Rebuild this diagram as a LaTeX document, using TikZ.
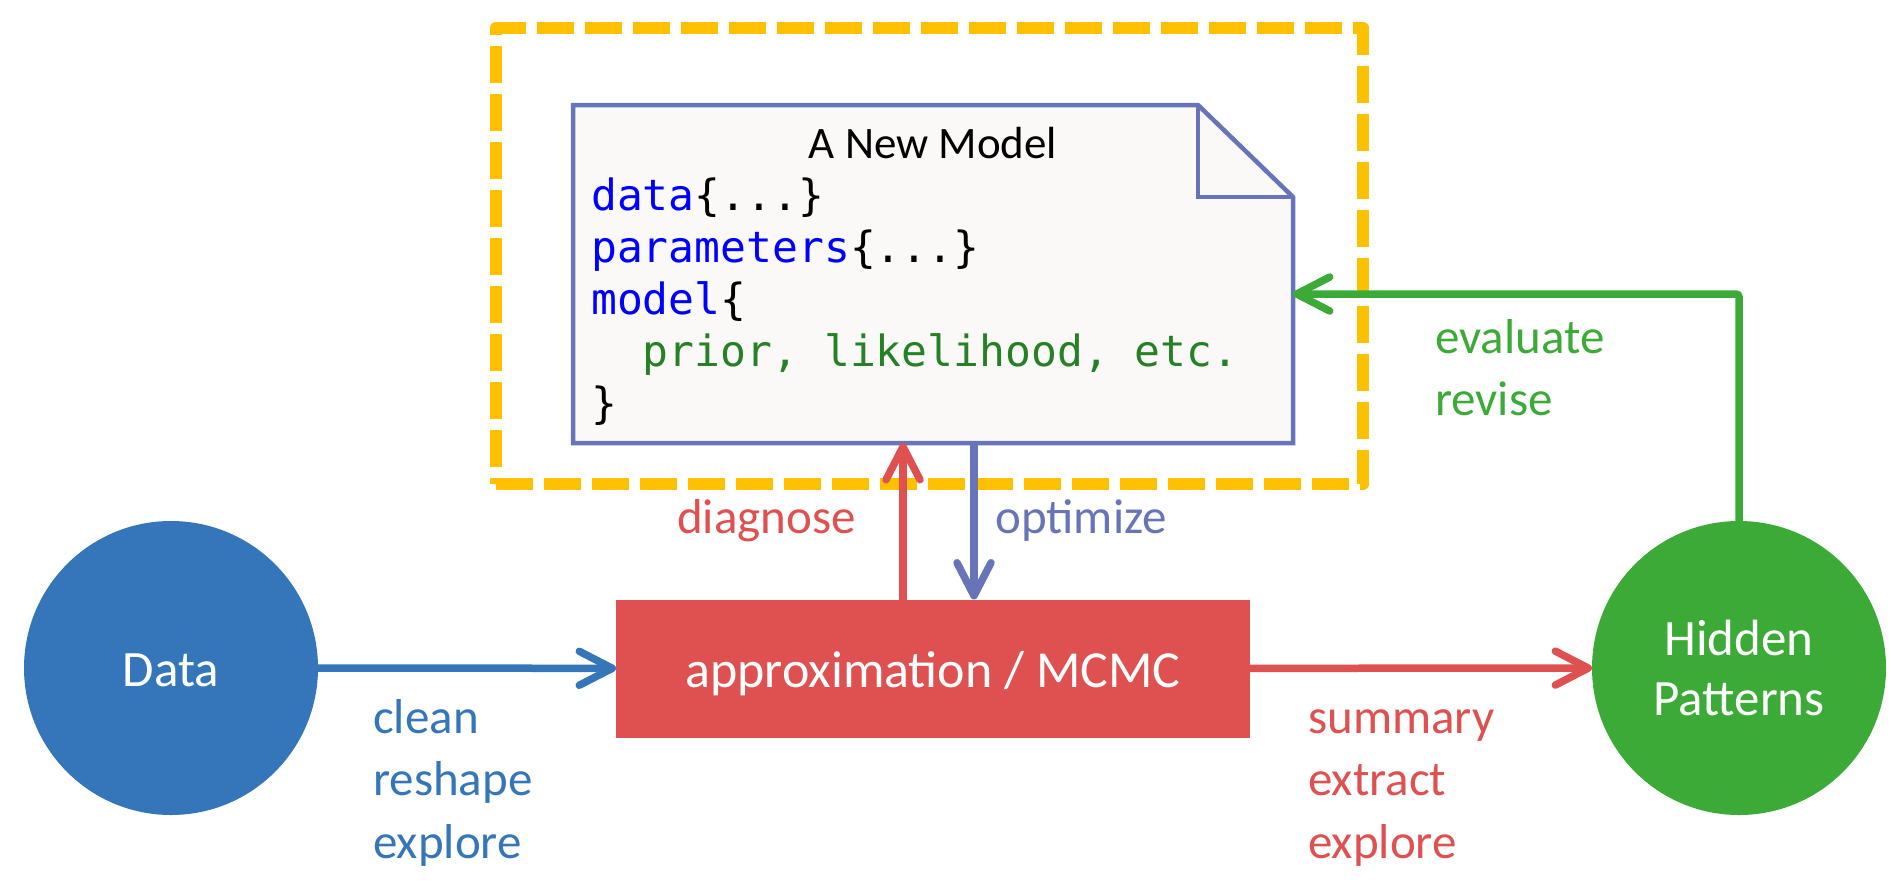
\documentclass[tikz,border=0pt]{standalone}
\usepackage{fontspec}
\setmainfont{Carlito}
\newfontfamily\mycodefont{DejaVu Sans Mono}
\usetikzlibrary{arrows.meta,calc}
\definecolor{datablue}{RGB}{52,118,185}
\definecolor{mcmcred}{RGB}{223,80,80}
\definecolor{hgreen}{RGB}{60,170,55}
\definecolor{noteblue}{RGB}{104,116,184}
\definecolor{gold}{RGB}{255,192,0}
\definecolor{notefill}{RGB}{250,249,247}
\definecolor{kwblue}{RGB}{0,0,255}
\definecolor{codegreen}{RGB}{38,128,38}
\newcommand\mylblfont{\fontsize{49}{59}\selectfont}
\newcommand\mynodefont{\fontsize{51}{60}\selectfont}
\newcommand\myrectfont{\fontsize{52}{62}\selectfont}
\newcommand\mytitlefont{\fontsize{45}{54}\selectfont}
\newcommand\mycodesize{\fontsize{43}{52}\selectfont}
\begin{document}
\begin{tikzpicture}[x=1pt,y=-1pt,
  >={Straight Barb[length=33pt,width=34pt,round]},
  conn/.style={line width=7.5pt,->},
  lbl/.style={font=\mylblfont,inner sep=0pt,anchor=base west},
  code/.style={font=\mycodefont\mycodesize,inner sep=0pt,anchor=base west},
  blob/.style={circle,minimum size=294pt,inner sep=0pt,outer sep=0pt,text=white,font=\mynodefont},
  noteline/.style={draw=noteblue,line width=4.5pt},
  framebox/.style={draw=gold,line width=12.5pt,dash pattern=on 37pt off 11pt,line join=round}]
\useasboundingbox (0,0) rectangle (1902,884);

% group frame
\node[framebox,minimum width=867pt,minimum height=456pt,inner sep=0pt] (frame) at (929.5,256) {};

% note (model file)
\node[minimum width=720pt,minimum height=338pt,inner sep=0pt,outer sep=0pt] (note) at (933,274) {};
\draw[noteline,fill=notefill] (note.north west) -- ($(note.north east)+(-95,0)$)
  -- ($(note.north east)+(0,92)$) -- (note.south east) -- (note.south west) -- cycle;
\draw[noteline] ($(note.north east)+(-95,0)$) -- ($(note.north east)+(-95,92)$)
  -- ($(note.north east)+(0,92)$);
\node[font=\mytitlefont,inner sep=0pt,anchor=base] (title) at (933,158) {A New Model};
\node[code] (c1) at (591,210) {\textcolor{kwblue}{data}\{...\}};
\node[code] (c2) at (591,262) {\textcolor{kwblue}{parameters}\{...\}};
\node[code] (c3) at (591,314) {\textcolor{kwblue}{model}\{};
\node[code] (c4) at (591,366) {\hphantom{xx}\textcolor{codegreen}{prior, likelihood, etc.}};
\node[code] (c5) at (591,418) {\}};

% main nodes
\node[blob,fill=datablue,text height=36pt,text depth=0pt] (data) at (171,668) {Data};
\node[blob,fill=hgreen,align=center] (hidden) at (1739,668) {Hidden\\Patterns};
\node[rectangle,fill=mcmcred,minimum width=634pt,minimum height=138pt,inner sep=0pt,outer sep=0pt,
  text=white,font=\myrectfont,text height=37pt,text depth=0pt] (mcmc) at (933,668.5) {approximation / MCMC};

% connectors
\draw[conn,draw=datablue] (data) -- (mcmc);
\draw[conn,draw=mcmcred] (mcmc) -- (hidden);
\draw[conn,draw=mcmcred] ([xshift=-30pt]mcmc.north) -- ([xshift=-30pt]mcmc.north |- note.south);
\draw[conn,draw=noteblue] ([xshift=41pt]mcmc.north |- note.south) -- ([xshift=41pt]mcmc.north);
\draw[conn,draw=hgreen,rounded corners=3pt] (hidden.north) |- ($(note.east)+(0,20)$);

% labels
\node[lbl,text=datablue] (l1) at (373,733) {clean};
\node[lbl,text=datablue] (l2) at (373,795) {reshape};
\node[lbl,text=datablue] (l3) at (373,858) {explore};
\node[lbl,text=mcmcred] (r1) at (1308,733) {summary};
\node[lbl,text=mcmcred] (r2) at (1308,795) {extract};
\node[lbl,text=mcmcred] (r3) at (1308,858) {explore};
\node[lbl,text=mcmcred,anchor=base east] (diag) at (856,533) {diagnose};
\node[lbl,text=noteblue] (opt) at (995,533) {optimize};
\node[lbl,text=hgreen] (ev1) at (1435,353) {evaluate};
\node[lbl,text=hgreen] (ev2) at (1435,415) {revise};
\end{tikzpicture}
\end{document}
